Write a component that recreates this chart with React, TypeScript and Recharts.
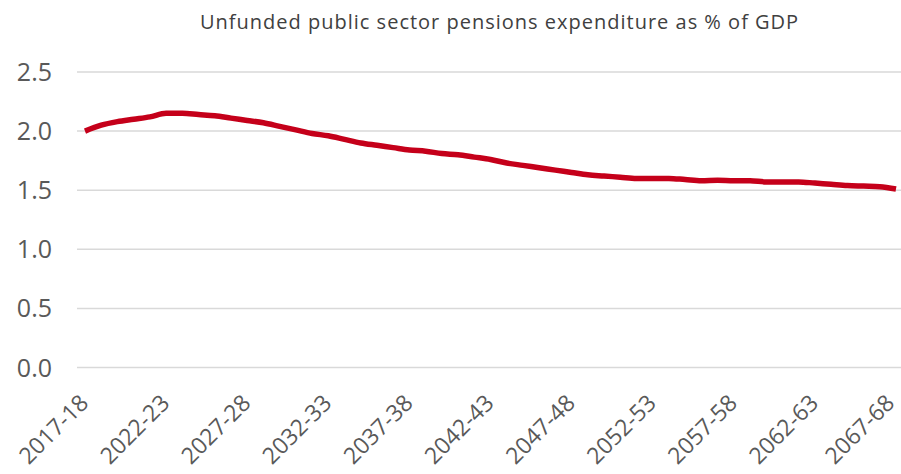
import React from "react";
import { LineChart, Line, XAxis, YAxis, CartesianGrid } from "recharts";

const years: string[] = [
  "2017-18","2018-19","2019-20","2020-21","2021-22","2022-23","2023-24","2024-25","2025-26","2026-27",
  "2027-28","2028-29","2029-30","2030-31","2031-32","2032-33","2033-34","2034-35","2035-36","2036-37",
  "2037-38","2038-39","2039-40","2040-41","2041-42","2042-43","2043-44","2044-45","2045-46","2046-47",
  "2047-48","2048-49","2049-50","2050-51","2051-52","2052-53","2053-54","2054-55","2055-56","2056-57",
  "2057-58","2058-59","2059-60","2060-61","2061-62","2062-63","2063-64","2064-65","2065-66","2066-67",
  "2067-68",
];

const pensionsPctGdp: number[] = [
  2.0, 2.05, 2.08, 2.1, 2.12, 2.15, 2.15, 2.14, 2.13, 2.11,
  2.09, 2.07, 2.04, 2.01, 1.98, 1.96, 1.93, 1.9, 1.88, 1.86,
  1.84, 1.83, 1.81, 1.8, 1.78, 1.76, 1.73, 1.71, 1.69, 1.67,
  1.65, 1.63, 1.62, 1.61, 1.6, 1.6, 1.6, 1.59, 1.58, 1.585,
  1.58, 1.58, 1.57, 1.57, 1.57, 1.56, 1.55, 1.54, 1.535, 1.53,
  1.51,
];

const yTicks: number[] = [0, 0.5, 1.0, 1.5, 2.0, 2.5];

const titleText = "Unfunded public sector pensions expenditure as % of GDP";

const data = years.map((year, i) => ({ year, value: pensionsPctGdp[i] }));

const FONT = "'Open Sans', 'Noto Sans', sans-serif";
const TEXT_COLOR = "#595959";

const XTick = (props: any) => {
  const { x, y, payload } = props;
  const tx = Math.min(x - 1, 890);
  const ty = y + 29;
  return (
    <text
      x={tx}
      y={ty}
      textAnchor="end"
      dy="0.36em"
      transform={`rotate(-45 ${tx} ${ty})`}
      fontFamily={FONT}
      fontSize={23}
      fill={TEXT_COLOR}
    >
      {payload.value}
    </text>
  );
};

const YTick = (props: any) => {
  const { y, payload } = props;
  return (
    <text
      x={52}
      y={y}
      dy="0.36em"
      textAnchor="end"
      fontFamily={FONT}
      fontSize={25}
      fill={TEXT_COLOR}
    >
      {Number(payload.value).toFixed(1)}
    </text>
  );
};

export default function App() {
  return (
    <div style={{ position: "absolute", left: 0, top: 0, width: 901, height: 474, background: "#fff" }}>
      <div
        style={{
          position: "absolute",
          left: 200,
          top: 8,
          fontFamily: FONT,
          fontSize: 20,
          letterSpacing: 1,
          color: "#404040",
          whiteSpace: "nowrap",
          lineHeight: "28px",
        }}
      >
        {titleText}
      </div>
      <LineChart
        width={901}
        height={474}
        data={data}
        margin={{ top: 72, right: 0, bottom: 0, left: 0 }}
      >
        <CartesianGrid vertical={false} stroke="#d9d9d9" strokeWidth={1.5} />
        <XAxis
          dataKey="year"
          interval={4}
          axisLine={false}
          tickLine={false}
          tickSize={0}
          height={106.5}
          padding={{ left: 8, right: 5 }}
          tick={<XTick />}
        />
        <YAxis
          domain={[0, 2.5]}
          ticks={yTicks}
          width={77}
          axisLine={false}
          tickLine={false}
          tick={<YTick />}
        />
        <Line
          type="monotone"
          dataKey="value"
          stroke="#c5001a"
          strokeWidth={5.5}
          dot={false}
          isAnimationActive={false}
        />
      </LineChart>
    </div>
  );
}
